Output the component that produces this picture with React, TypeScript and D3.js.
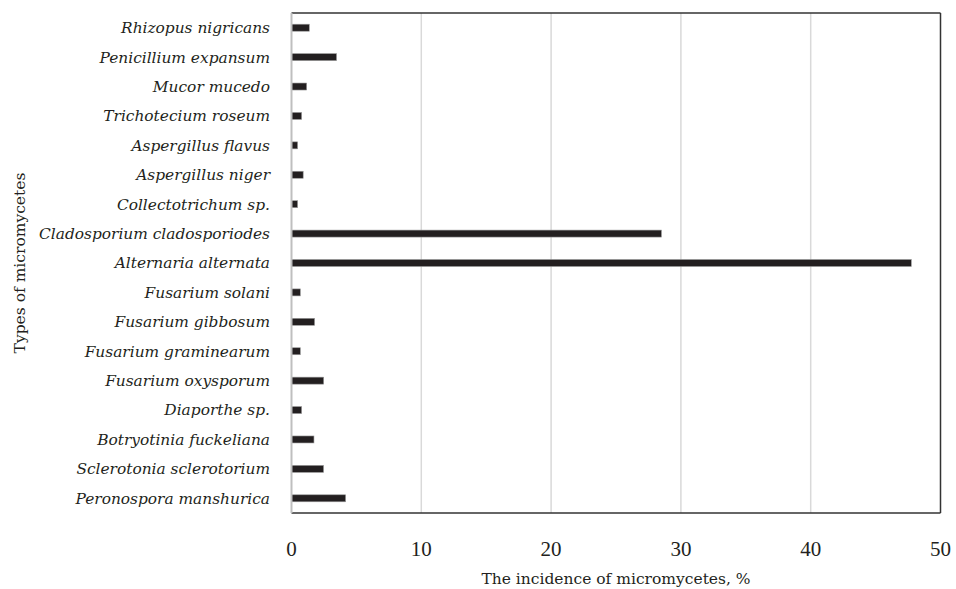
import React from "react";
import * as d3 from "d3";

const categories = [
  "Rhizopus nigricans",
  "Penicillium expansum",
  "Mucor mucedo",
  "Trichotecium roseum",
  "Aspergillus flavus",
  "Aspergillus niger",
  "Collectotrichum sp.",
  "Cladosporium cladosporiodes",
  "Alternaria alternata",
  "Fusarium solani",
  "Fusarium gibbosum",
  "Fusarium graminearum",
  "Fusarium oxysporum",
  "Diaporthe sp.",
  "Botryotinia fuckeliana",
  "Sclerotonia sclerotorium",
  "Peronospora manshurica",
];
const values = [1.37, 3.47, 1.17, 0.78, 0.47, 0.9, 0.47, 28.5, 47.75, 0.68, 1.78, 0.68, 2.48, 0.78, 1.73, 2.47, 4.17];
const xTicks = [0, 10, 20, 30, 40, 50];
const xTitle = "The incidence of micromycetes, %";
const yTitle = "Types of micromycetes";

export default function App() {
  const W = 956, H = 589;
  const left = 291.5, right = 940.5, top = 13, bottom = 513;
  const x = d3.scaleLinear().domain([0, 50]).range([left, right]);
  const y = d3.scaleBand().domain(categories).range([top, bottom]).paddingInner(0.76).paddingOuter(0.38);
  const bh = 7;
  return (
    <svg width={W} height={H} style={{ position: "absolute", left: 0, top: 0, background: "#fff" }}>
      {xTicks.slice(1, -1).map((t) => (
        <line key={t} x1={x(t)} x2={x(t)} y1={top} y2={bottom} stroke="#d9d9d9" strokeWidth={1.5} />
      ))}
      {categories.map((c, i) => {
        const cy = (y(c) as number) + y.bandwidth() / 2;
        return (
          <g key={c}>
            <rect x={x(0)} y={cy - bh / 2} width={x(values[i]) - x(0)} height={bh} fill="#231f20" stroke="#9a9a9a" strokeWidth={0.6} />
            <text x={270} y={cy} dy="0.35em" textAnchor="end" fontFamily="'DejaVu Serif', serif" fontStyle="italic" fontSize={15.4} fill="#231f20">
              {c}
            </text>
          </g>
        );
      })}
      <line x1={left} x2={right} y1={top} y2={top} stroke="#333" strokeWidth={1.5} />
      <line x1={right} x2={right} y1={top} y2={bottom} stroke="#333" strokeWidth={1.5} />
      <line x1={left} x2={right} y1={bottom} y2={bottom} stroke="#333" strokeWidth={1.5} />
      <line x1={left} x2={left} y1={top} y2={bottom} stroke="#bfbfbf" strokeWidth={2} />
      {xTicks.map((t) => (
        <text key={t} x={x(t)} y={556} textAnchor="middle" fontFamily="'Liberation Serif', serif" fontSize={21} fill="#231f20">
          {t}
        </text>
      ))}
      <text x={(left + right) / 2} y={584} textAnchor="middle" fontFamily="'DejaVu Serif', serif" fontSize={15.5} fill="#231f20">
        {xTitle}
      </text>
      <text transform={`translate(25,${(top + bottom) / 2}) rotate(-90)`} textAnchor="middle" fontFamily="'DejaVu Serif', serif" fontSize={15.5} fill="#231f20">
        {yTitle}
      </text>
    </svg>
  );
}
